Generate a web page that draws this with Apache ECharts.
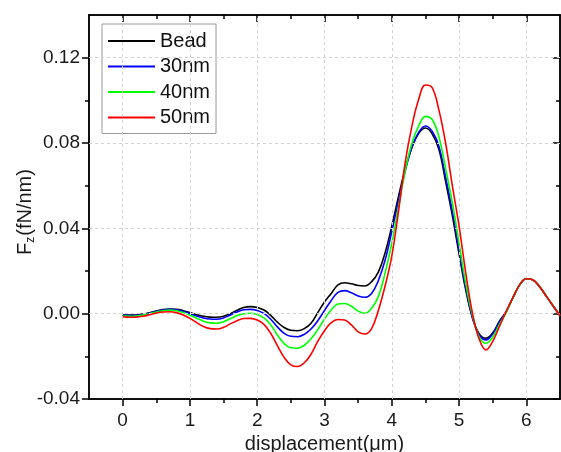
<!DOCTYPE html>
<html>
<head>
<meta charset="utf-8">
<script src="https://cdn.jsdelivr.net/npm/echarts@6/dist/echarts.min.js"></script>
<style>
html,body{margin:0;padding:0;background:#fff;overflow:hidden;}
#chart{width:561px;height:452px;}
</style>
</head>
<body>
<div id="chart"></div>
<script>
// ---- data ----
const xValues = [0.0,0.1,0.2,0.3,0.4,0.5,0.6,0.7,0.8,0.9,1.0,1.1,1.2,1.3,1.4,1.5,1.6,1.7,1.8,1.9,2.0,2.1,2.2,2.3,2.4,2.5,2.6,2.7,2.8,2.9,3.0,3.1,3.2,3.3,3.4,3.5,3.6,3.7,3.8,3.9,4.0,4.1,4.2,4.3,4.4,4.5,4.6,4.7,4.8,4.9,5.0,5.1,5.2,5.3,5.4,5.5,5.6,5.7,5.8,5.9,6.0,6.1,6.2,6.3,6.4,6.5];

const beadValues = [-0.0005,-0.0007,-0.0006,-0.0002,0.0004,0.0012,0.0019,0.0022,0.0021,0.0014,0.0005,-0.0005,-0.0012,-0.0016,-0.0017,-0.0012,0.0000,0.0016,0.0029,0.0033,0.0029,0.0017,-0.0008,-0.0040,-0.0065,-0.0078,-0.0080,-0.0070,-0.0045,0.0005,0.0055,0.0095,0.0135,0.0145,0.0140,0.0132,0.0130,0.0150,0.0195,0.0285,0.0410,0.0550,0.0680,0.0780,0.0845,0.0870,0.0843,0.0770,0.0620,0.0460,0.0280,0.0110,-0.0020,-0.0095,-0.0115,-0.0090,-0.0035,0.0010,0.0075,0.0135,0.0164,0.0158,0.0125,0.0080,0.0035,-0.0010];

const nm30Values = [-0.0007,-0.0009,-0.0008,-0.0004,0.0003,0.0011,0.0017,0.0020,0.0018,0.0010,0.0000,-0.0011,-0.0020,-0.0025,-0.0026,-0.0020,-0.0006,0.0008,0.0018,0.0020,0.0015,0.0001,-0.0026,-0.0062,-0.0092,-0.0106,-0.0108,-0.0097,-0.0072,-0.0033,0.0015,0.0062,0.0100,0.0108,0.0098,0.0083,0.0077,0.0095,0.0155,0.0250,0.0385,0.0530,0.0670,0.0780,0.0850,0.0880,0.0855,0.0785,0.0640,0.0480,0.0300,0.0120,-0.0020,-0.0100,-0.0123,-0.0095,-0.0040,0.0008,0.0075,0.0135,0.0164,0.0158,0.0125,0.0080,0.0035,-0.0010];

const nm40Values = [-0.0010,-0.0012,-0.0011,-0.0007,0.0000,0.0008,0.0014,0.0017,0.0014,0.0005,-0.0007,-0.0021,-0.0035,-0.0043,-0.0045,-0.0038,-0.0024,-0.0009,0.0000,0.0002,-0.0004,-0.0020,-0.0052,-0.0100,-0.0140,-0.0160,-0.0162,-0.0148,-0.0118,-0.0075,-0.0025,0.0018,0.0045,0.0048,0.0035,0.0012,0.0002,0.0025,0.0080,0.0190,0.0330,0.0500,0.0670,0.0800,0.0880,0.0925,0.0910,0.0830,0.0680,0.0520,0.0330,0.0140,-0.0010,-0.0110,-0.0139,-0.0110,-0.0050,0.0005,0.0075,0.0135,0.0164,0.0158,0.0125,0.0080,0.0035,-0.0010];

const nm50Values = [-0.0014,-0.0017,-0.0016,-0.0012,-0.0005,0.0003,0.0008,0.0009,0.0005,-0.0006,-0.0022,-0.0042,-0.0060,-0.0070,-0.0072,-0.0064,-0.0048,-0.0033,-0.0023,-0.0022,-0.0030,-0.0050,-0.0092,-0.0150,-0.0205,-0.0240,-0.0248,-0.0230,-0.0190,-0.0130,-0.0080,-0.0042,-0.0027,-0.0030,-0.0053,-0.0085,-0.0095,-0.0070,0.0015,0.0130,0.0270,0.0480,0.0710,0.0880,0.1005,0.1072,0.1060,0.0955,0.0800,0.0600,0.0410,0.0190,0.0000,-0.0120,-0.0170,-0.0130,-0.0060,0.0010,0.0075,0.0135,0.0164,0.0158,0.0125,0.0080,0.0035,-0.0010];

const seriesNames = ['Bead','30nm','40nm','50nm'];
const seriesColors = ['#000000','#0000ff','#00ff00','#ff0000'];
const xTickValues = [0,1,2,3,4,5,6];
const xMinorValues = [0.5,1.5,2.5,3.5,4.5,5.5];
const yTickValues = [-0.04,0.00,0.04,0.08,0.12];
const yMinorValues = [-0.02,0.02,0.06,0.10];

// ---- chart ----
const FONT = '"Liberation Sans", Arial, sans-serif';
const chart = echarts.init(document.getElementById('chart'), null, {renderer:'canvas'});
const pairs = vals => xValues.map((x,i)=>[x, vals[i]]);
const allVals = [beadValues, nm30Values, nm40Values, nm50Values];

const X_MIN = -0.5, X_MAX = 6.5, Y_MIN = -0.04, Y_MAX = 0.14;
const axisLineStyle = {color:'#000', width:1.5};

function xAx(pos, ticks, len, inside, major){
  const main = major && pos==='bottom';
  return {
    type:'value', position:pos, min:X_MIN, max:X_MAX,
    axisLine:{show:true, onZero:false, lineStyle:axisLineStyle},
    axisTick:{show:true, inside:inside, length:len, customValues:ticks, lineStyle:{color:'#000', width:1.5}},
    axisLabel: main ? {show:true, customValues:ticks, margin:12, color:'#1a1a1a', fontSize:19, fontFamily:FONT, formatter:v=>String(Math.round(v))} : {show:false},
    splitLine:{show:false},
    name: main ? 'displacement(μm)' : '',
    nameLocation:'middle', nameGap:31,
    nameTextStyle:{fontSize:20, fontFamily:FONT, color:'#1a1a1a'}
  };
}
function yAx(pos, ticks, len, inside, major){
  const main = major && pos==='left';
  return {
    type:'value', position:pos, min:Y_MIN, max:Y_MAX,
    axisLine:{show:true, onZero:false, lineStyle:axisLineStyle},
    axisTick:{show:true, inside:inside, length:len, customValues:ticks, lineStyle:{color:'#000', width:1.5}},
    axisLabel: main ? {show:true, customValues:ticks, margin:9, color:'#1a1a1a', fontSize:19, fontFamily:FONT, formatter:v=>v.toFixed(2)} : {show:false},
    splitLine:{show:false},
    name: main ? '{a|F}{b|z}{a|(fN/nm)}' : '',
    nameLocation:'middle', nameGap:52, nameRotate:90, nameMoveOverlap:false,
    nameTextStyle:{
      fontFamily:FONT, color:'#1a1a1a', padding:[0,10,0,0],
      rich:{
        a:{fontSize:20, fontFamily:FONT, color:'#1a1a1a', lineHeight:24},
        b:{fontSize:12, fontFamily:FONT, color:'#1a1a1a', lineHeight:24, padding:[12,1,0,0]}
      }
    }
  };
}

const gridSeries = {
  name:'__grid', type:'line', data:[], xAxisIndex:0, yAxisIndex:0, z:1, silent:true,
  markLine:{
    silent:true, symbol:['none','none'], label:{show:false}, animation:false,
    lineStyle:{color:'#d2d2d2', type:[3,3], width:1},
    emphasis:{disabled:true},
    data:[...xTickValues.map(v=>({xAxis:v})), ...yTickValues.filter(v=>v>Y_MIN).map(v=>({yAxis:v}))]
  }
};

const option = {
  backgroundColor:'#ffffff',
  animation:false,
  grid:{left:89, right:1, top:15, bottom:53, containLabel:false, outerBoundsMode:'none'},
  legend:{
    orient:'vertical', left:102, top:24,
    data:seriesNames,
    icon:'rect',
    backgroundColor:'#ffffff', borderColor:'#9a9a9a', borderWidth:1, borderRadius:0,
    padding:[7,6,6,6],
    itemWidth:47, itemHeight:2, itemGap:5.5,
    textStyle:{fontSize:20, fontFamily:FONT, color:'#111', lineHeight:20},
  },
  xAxis:[
    xAx('bottom', xTickValues, 7, false, true),
    xAx('bottom', xMinorValues, 4, false, false),
    xAx('top', xTickValues, 7, true, false),
    xAx('top', xMinorValues, 4, true, false)
  ],
  yAxis:[
    yAx('left', yTickValues, 7, false, true),
    yAx('left', yMinorValues, 4, false, false),
    yAx('right', yTickValues, 7, true, false),
    yAx('right', yMinorValues, 4, true, false)
  ],
  series: [gridSeries].concat(seriesNames.map((n,i)=>({
    name:n, type:'line', xAxisIndex:0, yAxisIndex:0,
    data:pairs(allVals[i]), smooth:0.4, symbol:'none', showSymbol:false,
    lineStyle:{color:seriesColors[i], width:1.6},
    itemStyle:{color:seriesColors[i]},
    z: 2+i
  })))
};
chart.setOption(option);
</script>
</body>
</html>
